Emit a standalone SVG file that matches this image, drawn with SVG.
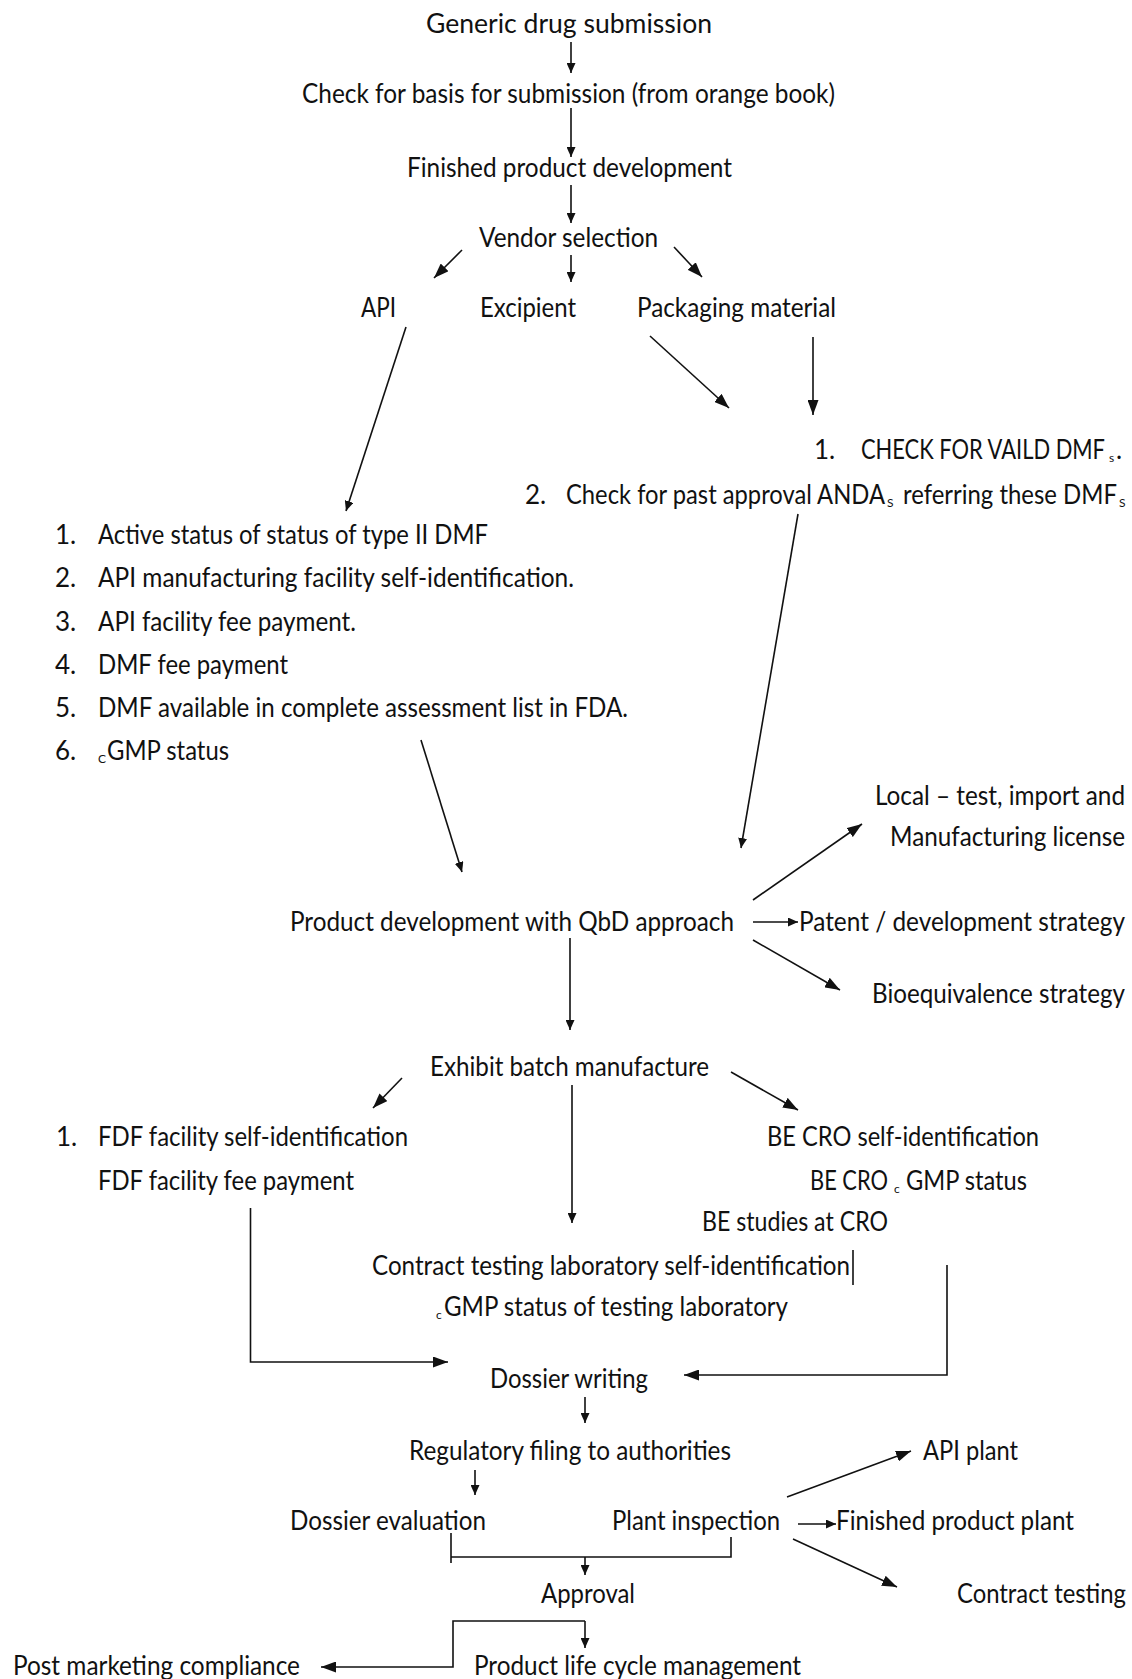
<svg xmlns="http://www.w3.org/2000/svg" width="1132" height="1679" viewBox="0 0 1132 1679">
  <style>
    .t { font-family: Lato, Carlito, "Liberation Sans", sans-serif; font-size: 26px; fill: #111; }
    .sub { font-family: Lato, Carlito, "Liberation Sans", sans-serif; font-size: 12px; fill: #111; }
    .c { fill: none; stroke: #111; stroke-width: 1.6; }
    .s { marker-end: url(#ah); }
    .l { marker-end: url(#ahL); }
  </style>
  <defs>
    <marker id="ah" viewBox="0 0 10 9" refX="10" refY="4.5" markerWidth="10" markerHeight="9" orient="auto" markerUnits="userSpaceOnUse">
      <path d="M0,0 L10,4.5 L0,9 z" fill="#111"/>
    </marker>
    <marker id="ahL" viewBox="0 0 15 11" refX="15" refY="5.5" markerWidth="15" markerHeight="11" orient="auto" markerUnits="userSpaceOnUse">
      <path d="M0,0 L15,5.5 L0,11 z" fill="#111"/>
    </marker>
  </defs>
  <rect width="1132" height="1679" fill="#fff"/>

  <!-- connectors -->
  <g id="connectors">
    <path class="c s" d="M571,42 V73"/>
    <path class="c s" d="M571,108 V157"/>
    <path class="c s" d="M571,185 V223"/>
    <path class="c l" d="M462,250 L434,278"/>
    <path class="c s" d="M571,255 V282"/>
    <path class="c l" d="M674,247 L702,277"/>
    <path class="c s" d="M406,327 L346,511"/>
    <path class="c l" d="M650,336 L729,408"/>
    <path class="c l" d="M813,337 V415"/>
    <path class="c s" d="M798,514 L741,848"/>
    <path class="c s" d="M421,740 L462,872"/>
    <path class="c l" d="M753,900 L862,824"/>
    <path class="c s" d="M753,922 H798"/>
    <path class="c l" d="M753,940 L840,990"/>
    <path class="c s" d="M570,938 V1030"/>
    <path class="c l" d="M402,1078 L373,1108"/>
    <path class="c l" d="M731,1072 L798,1110"/>
    <path class="c s" d="M572,1085 V1223"/>
    <path class="c l" d="M250.5,1208 V1362 H448"/>
    <path class="c l" d="M947,1265 V1375 H684"/>
    <path class="c" d="M853,1250 V1285"/>
    <path class="c s" d="M585,1397 V1423"/>
    <path class="c s" d="M475,1470 V1495"/>
    <path class="c l" d="M787,1497 L911,1451"/>
    <path class="c s" d="M798,1524 H836"/>
    <path class="c l" d="M793,1539 L897,1587"/>
    <path class="c" d="M451,1533 V1563 M451,1557 H731 V1537"/>
    <path class="c s" d="M585,1557 V1575"/>
    <path class="c l" d="M585,1621 H453 V1667 H321"/>
    <path class="c s" d="M585,1621 V1648"/>
  </g>

  <!-- nodes -->
  <g id="generic-drug-submission"><text class="t" x="426" y="33" textLength="286" lengthAdjust="spacingAndGlyphs">Generic drug submission</text></g>
  <g id="basis-check"><text class="t" x="302" y="103" textLength="533" lengthAdjust="spacingAndGlyphs">Check for basis for submission (from orange book)</text></g>
  <g id="finished-product-development"><text class="t" x="407" y="177" textLength="325" lengthAdjust="spacingAndGlyphs">Finished product development</text></g>
  <g id="vendor-selection"><text class="t" x="479" y="247" textLength="179" lengthAdjust="spacingAndGlyphs">Vendor selection</text></g>
  <g id="api"><text class="t" x="361" y="317" textLength="35" lengthAdjust="spacingAndGlyphs">API</text></g>
  <g id="excipient"><text class="t" x="480" y="317" textLength="96" lengthAdjust="spacingAndGlyphs">Excipient</text></g>
  <g id="packaging-material"><text class="t" x="637" y="317" textLength="199" lengthAdjust="spacingAndGlyphs">Packaging material</text></g>

  <g id="dmf-checks">
    <text class="t" x="814" y="459">1.</text>
    <text class="t" x="861" y="459" textLength="244" lengthAdjust="spacingAndGlyphs">CHECK FOR VAILD DMF</text>
    <text class="sub" x="1109" y="462">s</text>
    <text class="t" x="1116" y="459">.</text>
    <text class="t" x="525" y="504">2.</text>
    <text class="t" x="566" y="504" textLength="319" lengthAdjust="spacingAndGlyphs">Check for past approval ANDA</text>
    <text class="sub" x="887" y="507">S</text>
    <text class="t" x="903" y="504" textLength="214" lengthAdjust="spacingAndGlyphs">referring these DMF</text>
    <text class="sub" x="1119" y="507">S</text>
  </g>

  <g id="api-requirements">
    <text class="t" x="55" y="544">1.</text>
    <text class="t" x="98" y="544" textLength="390" lengthAdjust="spacingAndGlyphs">Active status of status of type II DMF</text>
    <text class="t" x="55" y="587">2.</text>
    <text class="t" x="98" y="587" textLength="476" lengthAdjust="spacingAndGlyphs">API manufacturing facility self-identification.</text>
    <text class="t" x="55" y="631">3.</text>
    <text class="t" x="98" y="631" textLength="258" lengthAdjust="spacingAndGlyphs">API facility fee payment.</text>
    <text class="t" x="55" y="674">4.</text>
    <text class="t" x="98" y="674" textLength="190" lengthAdjust="spacingAndGlyphs">DMF fee payment</text>
    <text class="t" x="55" y="717">5.</text>
    <text class="t" x="98" y="717" textLength="530" lengthAdjust="spacingAndGlyphs">DMF available in complete assessment list in FDA.</text>
    <text class="t" x="55" y="760">6.</text>
    <text class="sub" x="98" y="763">C</text>
    <text class="t" x="107" y="760" textLength="122" lengthAdjust="spacingAndGlyphs">GMP status</text>
  </g>

  <g id="local-license">
    <text class="t" x="875" y="805" textLength="250" lengthAdjust="spacingAndGlyphs">Local – test, import and</text>
    <text class="t" x="890" y="846" textLength="235" lengthAdjust="spacingAndGlyphs">Manufacturing license</text>
  </g>
  <g id="qbd-development"><text class="t" x="290" y="931" textLength="444" lengthAdjust="spacingAndGlyphs">Product development with QbD approach</text></g>
  <g id="patent-strategy"><text class="t" x="799" y="931" textLength="326" lengthAdjust="spacingAndGlyphs">Patent / development strategy</text></g>
  <g id="be-strategy"><text class="t" x="872" y="1003" textLength="253" lengthAdjust="spacingAndGlyphs">Bioequivalence strategy</text></g>

  <g id="exhibit-batch"><text class="t" x="430" y="1076" textLength="279" lengthAdjust="spacingAndGlyphs">Exhibit batch manufacture</text></g>
  <g id="fdf-facility">
    <text class="t" x="56" y="1146">1.</text>
    <text class="t" x="98" y="1146" textLength="310" lengthAdjust="spacingAndGlyphs">FDF facility self-identification</text>
    <text class="t" x="98" y="1190" textLength="256" lengthAdjust="spacingAndGlyphs">FDF facility fee payment</text>
  </g>
  <g id="be-cro">
    <text class="t" x="767" y="1146" textLength="272" lengthAdjust="spacingAndGlyphs">BE CRO self-identification</text>
    <text class="t" x="810" y="1190" textLength="78" lengthAdjust="spacingAndGlyphs">BE CRO</text>
    <text class="sub" x="894" y="1193">c</text>
    <text class="t" x="906" y="1190" textLength="121" lengthAdjust="spacingAndGlyphs">GMP status</text>
    <text class="t" x="702" y="1231" textLength="186" lengthAdjust="spacingAndGlyphs">BE studies at CRO</text>
  </g>
  <g id="contract-lab">
    <text class="t" x="372" y="1275" textLength="478" lengthAdjust="spacingAndGlyphs">Contract testing laboratory self-identification</text>
    <text class="sub" x="436" y="1319">c</text>
    <text class="t" x="444" y="1316" textLength="344" lengthAdjust="spacingAndGlyphs">GMP status of testing laboratory</text>
  </g>

  <g id="dossier-writing"><text class="t" x="490" y="1388" textLength="158" lengthAdjust="spacingAndGlyphs">Dossier writing</text></g>
  <g id="regulatory-filing"><text class="t" x="409" y="1460" textLength="322" lengthAdjust="spacingAndGlyphs">Regulatory filing to authorities</text></g>
  <g id="dossier-evaluation"><text class="t" x="290" y="1530" textLength="196" lengthAdjust="spacingAndGlyphs">Dossier evaluation</text></g>
  <g id="plant-inspection"><text class="t" x="612" y="1530" textLength="168" lengthAdjust="spacingAndGlyphs">Plant inspection</text></g>
  <g id="api-plant"><text class="t" x="923" y="1460" textLength="95" lengthAdjust="spacingAndGlyphs">API plant</text></g>
  <g id="finished-product-plant"><text class="t" x="836" y="1530" textLength="238" lengthAdjust="spacingAndGlyphs">Finished product plant</text></g>
  <g id="contract-testing"><text class="t" x="957" y="1603" textLength="169" lengthAdjust="spacingAndGlyphs">Contract testing</text></g>
  <g id="approval"><text class="t" x="541" y="1603" textLength="94" lengthAdjust="spacingAndGlyphs">Approval</text></g>
  <g id="post-marketing"><text class="t" x="13" y="1675" textLength="287" lengthAdjust="spacingAndGlyphs">Post marketing compliance</text></g>
  <g id="lifecycle-management"><text class="t" x="474" y="1675" textLength="327" lengthAdjust="spacingAndGlyphs">Product life cycle management</text></g>
</svg>
